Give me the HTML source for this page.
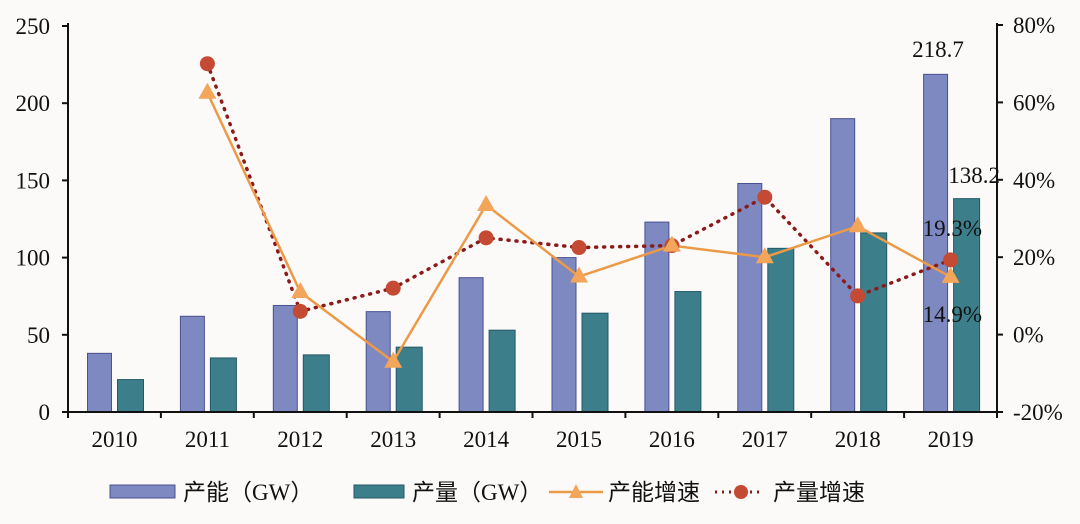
<!DOCTYPE html>
<html><head><meta charset="utf-8"><style>
body{margin:0;background:#fbfaf8;}
svg{display:block;}
text{font-family:"Liberation Serif","Noto Serif CJK SC",serif;font-size:23px;fill:#111;}
.cj{font-family:"Liberation Serif","Noto Sans CJK SC",sans-serif;font-size:23px;}
</style></head><body>
<svg width="1080" height="524" viewBox="0 0 1080 524">
<rect width="1080" height="524" fill="#fbfaf8"/>
<g id="bars"></g>
<g stroke="#111" stroke-width="2" fill="none">
<line x1="68" y1="23" x2="68" y2="412"/>
<line x1="997" y1="23" x2="997" y2="412"/>
<line x1="66" y1="412" x2="999" y2="412"/>
</g>
<g id="ticks" stroke="#111" stroke-width="2"></g>
<g id="labels"></g>
<g id="lines"></g>
<text x="938" y="57" text-anchor="middle">218.7</text>
<text x="1000" y="183" text-anchor="end">138.2</text>
<text x="982" y="236" text-anchor="end">19.3%</text>
<text x="982" y="322" text-anchor="end">14.9%</text>
<rect x="110" y="485" width="65" height="13" fill="#7e88c1" stroke="#4a5290" stroke-width="1"/>
<text x="183" y="500" class="cj">产能（GW）</text>
<rect x="354" y="485" width="50" height="13" fill="#3c7f8a" stroke="#245866" stroke-width="1"/>
<text x="412" y="500" class="cj">产量（GW）</text>
<line x1="549" y1="492" x2="603" y2="492" stroke="#ec9a48" stroke-width="2.5"/>
<polygon points="576,484 583,498 569,498" fill="#f3a55a"/>
<text x="608" y="500" class="cj">产能增速</text>
<line x1="715" y1="492" x2="762" y2="492" stroke="#8b1a1a" stroke-width="3" stroke-dasharray="2,5"/>
<circle cx="741" cy="492" r="7" fill="#c44a34"/>
<text x="773" y="500" class="cj">产量增速</text>
</svg>
<script>
const NS="http://www.w3.org/2000/svg";
function el(p,t,a,txt){const e=document.createElementNS(NS,t);for(const k in a)e.setAttribute(k,a[k]);if(txt!==undefined)e.textContent=txt;document.getElementById(p).appendChild(e);return e;}
const cap=[38,62,69,65,87,100,123,148,190,218.7],out=[21,35,37,42,53,64,78,106,116,138.2];
const cg=[null,62.5,11,-7,33.5,15,23,20,28,14.9],og=[null,70,6,12,25,22.5,23,35.5,10,19.3];
const cx=i=>114.5+92.9*i, yl=v=>412-v*1.544, yr=p=>334.6-p*3.87;
for(let i=0;i<10;i++){
 const c=cx(i);
 el("bars","rect",{x:c-27,y:yl(cap[i]),width:24,height:412-yl(cap[i]),fill:"#7e88c1",stroke:"#4a5290","stroke-width":1});
 el("bars","rect",{x:c+3,y:yl(out[i]),width:26,height:412-yl(out[i]),fill:"#3c7f8a",stroke:"#245866","stroke-width":1});
 el("labels","text",{x:c,y:447,"text-anchor":"middle"},String(2010+i));
}
for(let i=0;i<=10;i++){const x=68+92.9*i;el("ticks","line",{x1:x,y1:412,x2:x,y2:418});}
for(let v=0;v<=250;v+=50){const y=yl(v);el("ticks","line",{x1:62,y1:y,x2:68,y2:y});el("labels","text",{x:50,y:y+8,"text-anchor":"end"},String(v));}
for(let p=-20;p<=80;p+=20){const y=yr(p);el("ticks","line",{x1:997,y1:y,x2:1003,y2:y});el("labels","text",{x:1013,y:y+8},p+"%");}
let a="",b="";for(let i=1;i<10;i++){a+=cx(i)+","+yr(cg[i])+" ";b+=cx(i)+","+yr(og[i])+" ";}
el("lines","polyline",{points:b,fill:"none",stroke:"#8b1a1a","stroke-width":3.5,"stroke-dasharray":"1,7","stroke-linecap":"round"});
el("lines","polyline",{points:a,fill:"none",stroke:"#ec9a48","stroke-width":2.5});
for(let i=1;i<10;i++){const x=cx(i),y=yr(og[i]);el("lines","circle",{cx:x,cy:y,r:7.5,fill:"#c44a34"});}
for(let i=1;i<10;i++){const x=cx(i),y=yr(cg[i]);el("lines","polygon",{points:`${x},${y-10} ${x+9},${y+6} ${x-9},${y+6}`,fill:"#f3a55a"});}
</script>
</body></html>
